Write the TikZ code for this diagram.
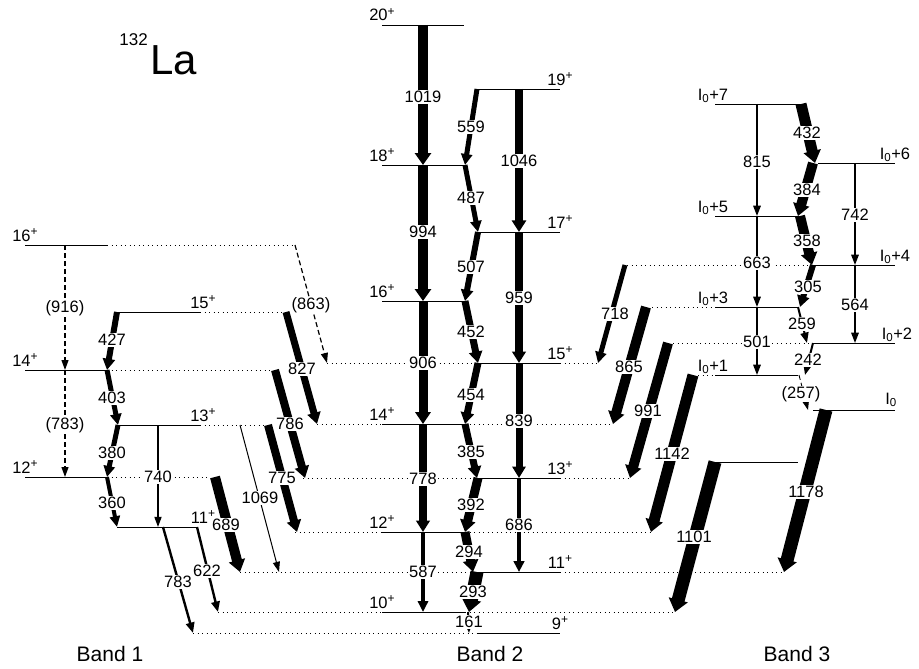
\documentclass[tikz,border=0pt]{standalone}
\usepackage{fontspec}
\setmainfont{Liberation Sans}
\usetikzlibrary{arrows.meta}

\newcommand{\plus}{\raisebox{0.62ex}{\fontsize{12}{12}\selectfont +}}

\begin{document}
\begin{tikzpicture}[x=1pt, y=-1pt,
    lvl/.style={line width=0.8pt},
    link/.style={line width=0.8pt, dash pattern=on 1pt off 3.5pt},
    gam/.style={line width=#1, -{Triangle[length=10pt 0.2, width=6pt 1.0]}},
    weak/.style={line width=1.2pt, dash pattern=on 5pt off 3pt, -{Triangle[length=10pt, width=7pt]}},
    elab/.style={fill=white, inner sep=0.8pt, font=\fontsize{16.5}{16.5}\selectfont},
    spin/.style={inner sep=0pt, anchor=base, font=\fontsize{16.5}{16.5}\selectfont},
    bandname/.style={inner sep=0pt, anchor=base, font=\fontsize{21}{21}\selectfont}]

    \useasboundingbox (0,0) rectangle (919,669);

    % 1. Levels, band 1
    \draw[lvl] (25,245) -- (107,245);  \draw[link] (107,245) -- (295,245);
    \draw[lvl] (115,312) -- (200,312); \draw[link] (200,312) -- (283,312);
    \draw[lvl] (25,370) -- (107,370);  \draw[link] (107,370) -- (272,370);
    \draw[lvl] (118,425) -- (200,425); \draw[link] (200,425) -- (265,425);
    \draw[lvl] (25,477) -- (107,477);  \draw[link] (107,477) -- (210,477);
    \draw[lvl] (117,527) -- (197,527);

    % 2. Levels, band 2
    \draw[lvl] (382,25) -- (464,25);
    \draw[lvl] (477,89) -- (560,89);
    \draw[lvl] (382,165) -- (465,165);
    \draw[lvl] (478,232) -- (560,232);
    \draw[lvl] (382,301) -- (465,301);
    \draw[link] (327,363) -- (478,363); \draw[lvl] (478,363) -- (560,363); \draw[link] (560,363) -- (598,363);
    \draw[link] (317,424) -- (382,424); \draw[lvl] (382,424) -- (465,424); \draw[link] (465,424) -- (613,424);
    \draw[link] (303,478) -- (478,478); \draw[lvl] (478,478) -- (560,478); \draw[link] (560,478) -- (630,478);
    \draw[link] (295,532) -- (382,532); \draw[lvl] (382,532) -- (465,532); \draw[link] (465,532) -- (652,532);
    \draw[link] (240,572) -- (478,572); \draw[lvl] (478,572) -- (560,572); \draw[link] (560,572) -- (785,572);
    \draw[link] (218,612) -- (382,612); \draw[lvl] (382,612) -- (465,612); \draw[link] (465,612) -- (675,612);
    \draw[link] (193,633) -- (478,633); \draw[lvl] (478,633) -- (560,633);

    % 3. Levels, band 3
    \draw[lvl] (715,104) -- (802,104);
    \draw[lvl] (818,163) -- (895,163);
    \draw[lvl] (715,216) -- (800,216);
    \draw[link] (627,265) -- (813,265); \draw[lvl] (813,265) -- (895,265);
    \draw[link] (652,307) -- (715,307); \draw[lvl] (715,307) -- (798,307);
    \draw[link] (673,343) -- (813,343); \draw[lvl] (813,343) -- (895,343);
    \draw[link] (698,375) -- (715,375); \draw[lvl] (715,375) -- (798,375);
    \draw[lvl] (813,410) -- (895,410);
    \draw[lvl] (708,462) -- (798,462);

    % 4. Transitions (x1/y1/x2/y2/width)
    \foreach \xa/\ya/\xb/\yb/\w in {
        117/312/107/370/6, 107/370/118/425/5, 118/425/107/477/5, 107/477/117/527/4,
        158/425/158/527/1.2, 163/527/193/633/2.4, 197/527/218/612/2.4,
        215/477/240/572/10, 240/425/279/572/1, 268/425/297/532/8,
        275/370/305/478/8, 286/312/317/424/7} {
        \draw[gam=\w pt] (\xa,\ya) -- (\xb,\yb);
    }
    \draw[weak] (65,245) -- (65,370);
    \draw[weak] (65,370) -- (65,477);
    \draw[weak] (295,245) -- (327,363);

    \foreach \xa/\ya/\xb/\yb/\w in {
        423/25/423/165/10, 423/165/423/301/10, 423/301/423/424/9,
        423/424/423/532/7.5, 423/532/423/612/4,
        519/89/519/232/8, 519/232/519/363/7.5, 519/363/519/478/7, 519/478/519/572/4.5,
        477/89/465/165/5, 465/165/478/232/5, 478/232/465/301/6, 465/301/478/363/7,
        478/363/465/424/7, 465/424/477/478/7, 478/478/465/532/9, 465/532/473/572/9,
        477/572/469/612/13, 468/612/469/633/2} {
        \draw[gam=\w pt] (\xa,\ya) -- (\xb,\yb);
    }

    \foreach \xa/\ya/\xb/\yb/\w in {
        757/104/757/216/1.5, 757/216/757/307/1.5, 757/307/757/375/1.5,
        855/163/855/265/1.5, 855/265/855/343/1.5,
        801/104/815/163/11, 813/163/798/216/10, 800/216/812/265/10, 813/265/800/307/6,
        798/307/807/343/2, 813/343/805/375/2,
        625/265/598/363/5, 646/307/613/424/10, 668/343/630/478/10,
        693/375/651/532/11, 715/462/675/612/13, 826/410/784/572/13} {
        \draw[gam=\w pt] (\xa,\ya) -- (\xb,\yb);
    }
    \draw[weak, line width=0.9pt] (799,375) -- (808,410);

    % 5. Energy labels
    \foreach \e/\px/\py in {427/112/340, 403/112/398, 380/112/453, 360/112/503,
        740/158/477, 783/178/582, 622/207/571, 689/226/525, 1069/260/498,
        775/282/478, 786/290/424, 827/302/369} {
        \node[elab] (ba\e) at (\px,\py) {\e};
    }
    \node[elab] (ba916) at (65,308) {(916)};
    \node[elab] (bb783) at (65,425) {(783)};
    \node[elab] (ba863) at (311,305) {(863)};

    \foreach \e/\px/\py in {1019/423/97, 994/423/232, 906/423/363, 778/423/479, 587/423/572,
        1046/519/161, 959/519/298, 839/519/421, 686/519/525,
        559/471/127, 487/471/198, 507/471/267, 452/471/332, 454/471/395,
        385/471/452, 392/471/505, 294/469/552, 293/473/592, 161/469/622} {
        \node[elab] (bn\e) at (\px,\py) {\e};
    }

    \foreach \e/\px/\py in {815/757/162, 663/757/263, 501/757/342, 742/855/215, 564/855/305,
        432/807/133, 384/807/190, 358/807/241, 305/808/287, 259/802/324, 242/808/360,
        718/615/314, 865/629/367, 991/648/411, 1142/672/454, 1101/694/537, 1178/806/492} {
        \node[elab] (bt\e) at (\px,\py) {\e};
    }
    \node[elab] (bt257) at (801,394) {(257)};

    % 6. Spin labels
    \foreach \s/\px/\py in {16/25/241, 15/203/308, 14/25/366, 13/203/421, 12/25/473, 11/203/523,
        20/382/21, 18/382/161, 16/382/297, 14/382/420, 12/382/528, 10/382/608,
        19/560/85, 17/560/228, 15/560/359, 13/560/474, 11/560/568, 9/560/629} {
        \node[spin] at (\px,\py) {\s\plus};
    }
    \foreach \k/\px/\py in {+7/713/100, +5/713/212, +3/713/303, +1/713/371,
        +6/895/159, +4/895/261, +2/897/339} {
        \node[spin] at (\px,\py) {I\textsubscript{0}\k};
    }
    \node[spin, anchor=base east] (i0) at (897,404) {I\textsubscript{0}};

    % 7. Titles
    \node[inner sep=0pt, anchor=base west, font=\fontsize{42}{42}\selectfont] (nuc) at (150,75) {La};
    \node[inner sep=0pt, anchor=base east, font=\fontsize{17}{17}\selectfont] (mass) at (148,46) {132};
    \node[bandname] (b1) at (110,661) {Band 1};
    \node[bandname] (b2) at (490,661) {Band 2};
    \node[bandname] (b3) at (797,661) {Band 3};

\end{tikzpicture}
\end{document}
